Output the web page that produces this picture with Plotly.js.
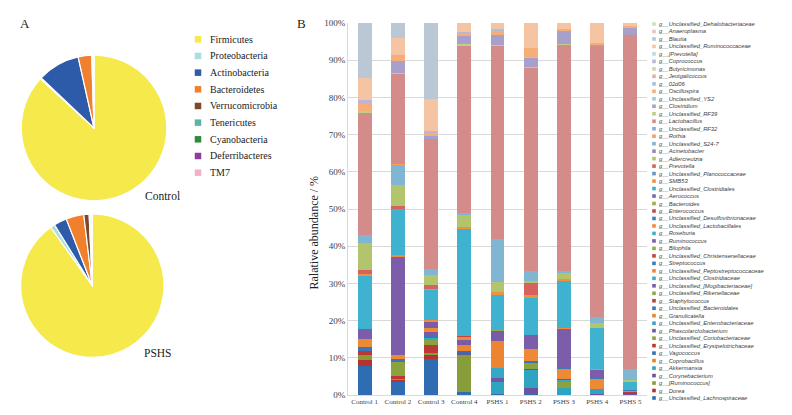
<!DOCTYPE html>
<html><head><meta charset="utf-8">
<script src="https://cdn.plot.ly/plotly-3.0.1.min.js"></script>
<style>html,body{margin:0;padding:0;background:#fff}#chart{width:792px;height:415px}</style>
</head><body><div id="chart"></div>
<script>
// ---------- Panel A data (phylum level, %) ----------
const phyla = ['Firmicutes','Proteobacteria','Actinobacteria','Bacteroidetes','Verrucomicrobia','Tenericutes','Cyanobacteria','Deferribacteres','TM7'];
const phylaControl = [86.8, 0.3, 9.4, 3.0, 0.2, 0.1, 0.1, 0.05, 0.05];
const phylaPSHS    = [89.9, 1.0, 2.9, 4.0, 1.2, 0.3, 0.2, 0.1, 0.1];

// ---------- Panel B data (genus level, % ; stack order bottom -> top) ----------
const samples = ['Control 1','Control 2','Control 3','Control 4','PSHS 1','PSHS 2','PSHS 3','PSHS 4','PSHS 5'];
const genera = [
 'Unclassified_Lachnospiraceae','Dorea','[Ruminococcus]','Corynebacterium','Akkermansia','Coprobacillus',
 'Vagococcus','Unclassified_Erysipelotrichaceae','Unclassified_Coriobacteriaceae','Phascolarctobacterium','Unclassified_Enterobacteriaceae','Granulicatella',
 'Unclassified_Bacteroidales','Staphylococcus','Unclassified_Rikenellaceae','Unclassified_[Mogibacteriaceae]','Unclassified_Clostridiaceae','Unclassified_Peptostreptococcaceae',
 'Streptococcus','Unclassified_Christensenellaceae','Bilophila','Ruminococcus','Roseburia','Unclassified_Lactobacillales',
 'Unclassified_Desulfovibrionaceae','Enterococcus','Bacteroides','Aerococcus','Unclassified_Clostridiales','SMB53',
 'Unclassified_Planococcaceae','Prevotella','Adlercreutzia','Acinetobacter','Unclassified_S24-7','Rothia',
 'Unclassified_RF32','Lactobacillus','Unclassified_RF39','Clostridium','Unclassified_YS2','Oscillospira',
 '02d06','Jeotgalicoccus','Butyricimonas','Coprococcus','[Prevotella]','Unclassified_Ruminococcaceae',
 'Blautia','Anaeroplasma','Unclassified_Dehalobacteriaceae'];

const control1 = [7.9,1.5,1.3,0,0,0,  0,1.2,0,0,0,0,  0.9,0,0,0,0,2.2,  0,0,0,2.7,0.5,0,  0,0,0,0,13.8,0.5,
                  0,1.2,7.2,0,2.0,0,  0,32.8,0.6,0,0,2.2,  0,0,0,0.7,0,6.1,  14.6,0,0];
const control2 = [3.4,0.5,0.5,0,0,0,  0,0.6,4.0,0,0,0,  0.6,0,0,0,0,1.2,  0,0,0,26.3,0,0.6,  0,0,0,0,12.3,0,
                  0,0.7,5.8,0,5.2,0.5,  0,24.1,0.3,3.1,0,1.3,  0,0,0,0.4,0,4.5,  4.1,0,0];
const control3 = [9.6,1.2,0.4,0,0,0,  0,2.3,1.3,0,0.4,0,  0.9,0,0,0.8,0,1.2,  0,0,0,1.4,0,0.6,  0,0,0,0,8.0,0.4,
                  0,1.0,2.8,0,1.5,0,  0,35.0,0,0.7,0,0.9,  0,0,0,0.5,0,8.7,  20.4,0,0];
const control4 = [0.7,0,10.1,0.6,0,0,  0.5,0,0,0,0,1.6,  0,0,0,1.4,0,0.6,  0,0.4,0,0,0,0,  0,0,0,0,28.8,0.4,
                  0,0,3.4,0,0.3,0,  0,44.9,0.6,2.2,0,0.7,  0,0,0,0.3,0,2.5,  0,0,0];
const pshs1    = [0.3,0,0,0,3.3,0,  0,0,0,0.9,2.7,7.4,  0,0,0,2.5,0,0,  0,0,0.4,0,0,0,  0,0,0,0,9.3,0.8,
                  0,0,2.9,0,11.5,0,  0,51.9,0.3,2.7,0,1.0,  0.4,0,0,0,0,1.7,  0,0,0];
const pshs2    = [0.2,0,0,1.8,4.7,0,  0,0.4,1.4,0,0,0,  0.7,0,0,0,0,3.2,  0,0,0,3.8,0.3,0,  0,0,0,0,9.7,0.6,
                  0,3.3,0.6,0,2.7,0,  0,54.5,0.4,2.2,0.3,2.6,  0,0,0,0,0,6.6,  0,0,0];
const pshs3    = [0,0,0,0,1.8,0,  0,0,1.8,0,0.4,0,  0,0.3,0,0,0,2.6,  0.3,0,0,10.5,0,0.4,  0,0,0,0,12.6,0.5,
                  0,0,1.6,0,0.6,0,  0,60.6,0.3,3.5,0,0.6,  0,0,0,0,0,1.6,  0,0,0];
const pshs4    = [0,0,0,0.3,1.2,0,  0,0,0,0,0,0,  0,0,0,0,0,2.7,  0.3,0,0,2.3,0,0.2,  0,0,0,0,11.1,0,
                  0,0,1.2,0,1.8,0,  0,72.6,0,0.4,0,0.6,  0,0,0,0,0,5.3,  0,0,0];
const pshs5    = [0,0,0,0.4,0,0,  0,0.3,0,0,0,0.3,  0,0,0,0,0,0,  0.3,0,0,0,0,0,  0,0,0,0,2.3,0,
                  0,0,0.4,0,2.9,0,  0,89.8,0,2.0,0,0.6,  0,0,0,0,0,0.7,  0,0,0];
const sampleData = [control1,control2,control3,control4,pshs1,pshs2,pshs3,pshs4,pshs5];

// ---------- styles ----------
const phylaColors = ['#F5E94C','#A9DDE2','#2D5BA9','#F07F2E','#7A4A2A','#5FB2A7','#2E8B3B','#8E3C9E','#F1B0C7'];
const layerColors = [
 ['#2F6DB2','#B8312F','#869D3A','#6E52A0','#2FA3C2','#EA7F2C'],
 ['#3571B5','#BC3835','#8BA23F','#7357A4','#35A8C6','#EC8431'],
 ['#3A76B8','#C03F3B','#91A745','#785CA8','#3BADCA','#EE8936'],
 ['#4079BA','#C24540','#96AB4A','#7B5DA9','#41B0CC','#EF8D3B'],
 ['#457DBC','#C54B46','#9BAF50','#8266AE','#3FB2D0','#F09140'],
 ['#6A93C9','#D5625E','#B3C56C','#9A86BE','#80B6D1','#F3A15F'],
 ['#8FAAD6','#D38C8A','#BFCF87','#A99FCB','#9CCFE0','#F5AE78'],
 ['#A9BFE0','#E3AEAD','#CCDBA4','#BDB4D8','#B4DBE8','#F5C5A3'],
 ['#BAC8D6','#E8C4C4','#D3DEBE']
];
const genusColors = genera.map((g,i)=>layerColors[Math.floor(i/6)][i%6]);
const serif = 'Liberation Serif, Times New Roman, serif';

const traces = [];
// stacked bars
genera.forEach((g,i)=>{
  traces.push({type:'bar', name:'g__'+g, x:samples, y:sampleData.map(s=>s[i]),
    marker:{color:genusColors[i], line:{width:0}}, xaxis:'x', yaxis:'y',
    showlegend:false, hoverinfo:'skip'});
});
// pies
const pieBase = {type:'pie', labels:phyla, sort:false, direction:'clockwise', rotation:0,
  textinfo:'none', hoverinfo:'skip', showlegend:false,
  marker:{colors:phylaColors, line:{color:'#ffffff', width:1.2}}};
traces.push(Object.assign({}, pieBase, {values:phylaControl, domain:{x:[0.02677,0.21061], y:[0.51614,0.86699]}}));
traces.push(Object.assign({}, pieBase, {values:phylaPSHS, domain:{x:[0.02601,0.20707], y:[0.13880,0.48434]}}));

// custom legends (pixel overlay axes x2/y2)
const pieLegTop = 39.3, pieLegStep = 16.67, pieLegMarkX = 198, pieLegTextX = 208;
traces.push({type:'scatter', mode:'markers', xaxis:'x2', yaxis:'y2', cliponaxis:false,
  x:phyla.map(()=>pieLegMarkX), y:phyla.map((_,k)=>pieLegTop+k*pieLegStep),
  marker:{symbol:'square', size:6.5, color:phylaColors, line:{width:0}}, showlegend:false, hoverinfo:'skip'});
const genLegTop = 24, genLegStep = 7.48, genLegMarkX = 654, genLegTextX = 656.5;
const legendOrder = genera.map((g,i)=>i).reverse();
traces.push({type:'scatter', mode:'markers', xaxis:'x2', yaxis:'y2', cliponaxis:false,
  x:legendOrder.map(()=>genLegMarkX), y:legendOrder.map((_,k)=>genLegTop+k*genLegStep),
  marker:{symbol:'square', size:3.6, color:legendOrder.map(i=>genusColors[i]), line:{width:0}}, showlegend:false, hoverinfo:'skip'});

const annotations = [];
phyla.forEach((p,k)=>annotations.push({xref:'x2', yref:'y2', x:pieLegTextX, y:pieLegTop+k*pieLegStep, text:p,
  showarrow:false, xanchor:'left', yanchor:'middle', font:{family:serif, size:10, color:'#222'}}));
legendOrder.forEach((i,k)=>annotations.push({xref:'x2', yref:'y2', x:genLegTextX, y:genLegTop+k*genLegStep,
  text:'<i>g__'+genera[i]+'</i>', showarrow:false, xanchor:'left', yanchor:'middle',
  font:{family:'Liberation Sans, Arial, sans-serif', size:5.8, color:'#404040'}}));
const labelFont = {family:serif, size:11.5, color:'#222'};
annotations.push({xref:'x2', yref:'y2', x:162.5, y:196, text:'Control', showarrow:false, font:labelFont});
annotations.push({xref:'x2', yref:'y2', x:158, y:353, text:'PSHS', showarrow:false, font:labelFont});
annotations.push({xref:'x2', yref:'y2', x:25, y:23, text:'A', showarrow:false, font:{family:serif, size:13, color:'#222'}});
annotations.push({xref:'x2', yref:'y2', x:301, y:23, text:'B', showarrow:false, font:{family:serif, size:13, color:'#222'}});
annotations.push({xref:'x2', yref:'y2', x:313, y:232.5, text:'Ralative abundance / %', textangle:-90, showarrow:false,
  font:{family:serif, size:12, color:'#222'}});

const layout = {
  width:792, height:415, margin:{l:0,r:0,t:0,b:0}, paper_bgcolor:'#fff', plot_bgcolor:'rgba(0,0,0,0)',
  barmode:'stack', bargap:0.58, showlegend:false,
  xaxis:{domain:[348/792, 647/792], type:'category', showgrid:false, showline:true, linecolor:'#D9D9D9', linewidth:1,
    ticks:'', tickfont:{family:serif, size:7, color:'#404040'}, fixedrange:true, anchor:'y'},
  yaxis:{domain:[20/415, 392/415], range:[0,100], dtick:10, ticksuffix:'%', showgrid:true, gridcolor:'#D9D9D9', gridwidth:1,
    showline:true, linecolor:'#D9D9D9', zeroline:false, ticks:'', tickfont:{family:serif, size:9, color:'#404040'},
    fixedrange:true, anchor:'x'},
  xaxis2:{domain:[0,1], range:[0,792], visible:false, fixedrange:true, anchor:'y2'},
  yaxis2:{domain:[0,1], range:[415,0], visible:false, fixedrange:true, anchor:'x2'},
  annotations:annotations
};
Plotly.newPlot('chart', traces, layout, {displayModeBar:false, staticPlot:true});
</script></body></html>
